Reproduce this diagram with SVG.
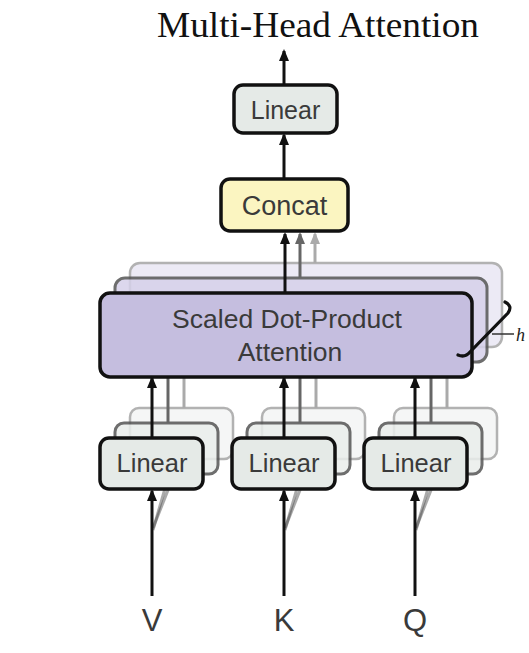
<svg xmlns="http://www.w3.org/2000/svg" width="529" height="653" viewBox="0 0 529 653">
<style>
.lbl{font-family:"Liberation Sans",Arial,sans-serif;fill:#3a3a3a;text-anchor:middle}
.front{stroke:#111;stroke-width:3.5}
.mid{stroke:#555;stroke-width:3;opacity:.85}
.back{stroke:#999;stroke-width:2.5;opacity:.75}
.lin{fill:#e5eae7}
.linm{fill:#eaeeec}
.linb{fill:#f2f4f3}
.sdpa{fill:#c5bedf}
.sdpam{fill:#d6d1ea}
.sdpab{fill:#e6e3f2}
.arr{stroke:#111;stroke-width:3;fill:none}
.arrm{stroke:#666;stroke-width:3;fill:none}
.arrb{stroke:#aaa;stroke-width:3;fill:none}
.diag{stroke:#444;stroke-width:3;opacity:.45}
</style>
<defs>
<marker id="ah" markerUnits="userSpaceOnUse" markerWidth="12" markerHeight="14" refX="10" refY="5" orient="auto" viewBox="0 0 12 10">
<path d="M0,0 L12,5 L0,10 Z" fill="#111"/>
</marker>
<marker id="ahm" markerUnits="userSpaceOnUse" markerWidth="12" markerHeight="14" refX="10" refY="5" orient="auto" viewBox="0 0 12 10">
<path d="M0,0 L12,5 L0,10 Z" fill="#666"/>
</marker>
<marker id="ahb" markerUnits="userSpaceOnUse" markerWidth="12" markerHeight="14" refX="10" refY="5" orient="auto" viewBox="0 0 12 10">
<path d="M0,0 L12,5 L0,10 Z" fill="#aaa"/>
</marker>
</defs>
<rect width="529" height="653" fill="#fff"/>

<text id="title" x="318" y="37" font-family="'Liberation Serif','Times New Roman',serif" font-size="35" fill="#111" text-anchor="middle" textLength="322" lengthAdjust="spacingAndGlyphs">Multi-Head Attention</text>

<g id="sdpa-back"><rect class="back sdpab" x="130" y="263" width="372" height="84" rx="10"/></g>
<g id="sdpa-mid"><rect class="mid sdpam" x="115" y="278" width="372" height="84" rx="10"/></g>

<g id="linear-v-back"><rect class="back linb" x="130" y="408" width="103" height="51" rx="9"/></g>
<g id="linear-k-back"><rect class="back linb" x="262" y="408" width="103" height="51" rx="9"/></g>
<g id="linear-q-back"><rect class="back linb" x="394" y="408" width="103" height="51" rx="9"/></g>
<g id="linear-v-mid"><rect class="mid linm" x="115" y="423" width="103" height="51" rx="9"/></g>
<g id="linear-k-mid"><rect class="mid linm" x="247" y="423" width="103" height="51" rx="9"/></g>
<g id="linear-q-mid"><rect class="mid linm" x="379" y="423" width="103" height="51" rx="9"/></g>

<g id="connectors">
<line class="arr" x1="284" y1="84" x2="284" y2="51" marker-end="url(#ah)"/>
<line class="arr" x1="284" y1="178" x2="284" y2="135" marker-end="url(#ah)"/>
<line class="arrb" x1="315" y1="263" x2="315" y2="234" marker-end="url(#ahb)"/>
<line class="arrm" x1="300" y1="278" x2="300" y2="234" marker-end="url(#ahm)"/>
<line class="arr" x1="285" y1="293" x2="285" y2="234" marker-end="url(#ah)"/>
<line class="arrb" x1="184" y1="408" x2="184" y2="347"/>
<line class="arrm" x1="168" y1="423" x2="168" y2="362"/>
<line class="arrb" x1="316" y1="408" x2="316" y2="347"/>
<line class="arrm" x1="300" y1="423" x2="300" y2="362"/>
<line class="arrb" x1="447" y1="408" x2="447" y2="347"/>
<line class="arrm" x1="431" y1="423" x2="431" y2="362"/>
<line class="arr" x1="152" y1="438" x2="152" y2="378" marker-end="url(#ah)"/>
<line class="arr" x1="284" y1="438" x2="284" y2="378" marker-end="url(#ah)"/>
<line class="arr" x1="415" y1="438" x2="415" y2="378" marker-end="url(#ah)"/>
<line class="diag" x1="153" y1="528" x2="172" y2="480"/>
<line class="diag" x1="153" y1="530" x2="166" y2="485"/>
<line class="diag" x1="285" y1="528" x2="304" y2="480"/>
<line class="diag" x1="285" y1="530" x2="298" y2="485"/>
<line class="diag" x1="416" y1="528" x2="435" y2="480"/>
<line class="diag" x1="416" y1="530" x2="429" y2="485"/>
<line class="arr" x1="152" y1="596" x2="152" y2="491" marker-end="url(#ah)"/>
<line class="arr" x1="284" y1="596" x2="284" y2="491" marker-end="url(#ah)"/>
<line class="arr" x1="415" y1="596" x2="415" y2="491" marker-end="url(#ah)"/>
</g>

<g id="linear-out"><rect class="front lin" x="234" y="85" width="103" height="48" rx="9"/><text class="lbl" x="285.5" y="119" font-size="25">Linear</text></g>
<g id="concat"><rect class="front" fill="#fbf5c1" x="221" y="179" width="127" height="52" rx="9"/><text class="lbl" x="284.5" y="215" font-size="27">Concat</text></g>
<g id="sdpa"><rect class="front sdpa" x="100" y="293" width="372" height="84" rx="10"/>
<text class="lbl" x="287" y="328" font-size="26.5">Scaled Dot-Product</text>
<text class="lbl" x="290" y="361" font-size="26.5">Attention</text></g>

<g id="linear-v"><rect class="front lin" x="100" y="438" width="103" height="51" rx="9"/><text class="lbl" x="152" y="472" font-size="25.5">Linear</text></g>
<g id="linear-k"><rect class="front lin" x="232" y="438" width="103" height="51" rx="9"/><text class="lbl" x="284" y="472" font-size="25.5">Linear</text></g>
<g id="linear-q"><rect class="front lin" x="364" y="438" width="103" height="51" rx="9"/><text class="lbl" x="416" y="472" font-size="25.5">Linear</text></g>

<g id="heads">
<path d="M505,302 Q513,306 508,313 L470,352 Q465,358 458,355" fill="none" stroke="#111" stroke-width="3.2" stroke-linecap="round"/>
<line x1="492" y1="334" x2="514" y2="334" stroke="#333" stroke-width="1.5"/>
<text x="516" y="341" font-family="'Liberation Serif','Times New Roman',serif" font-style="italic" font-size="18" fill="#222">h</text>
</g>

<g id="input-v"><text class="lbl" x="152" y="631" font-size="31">V</text></g>
<g id="input-k"><text class="lbl" x="284" y="631" font-size="31">K</text></g>
<g id="input-q"><text class="lbl" x="415" y="631" font-size="31">Q</text></g>
</svg>
